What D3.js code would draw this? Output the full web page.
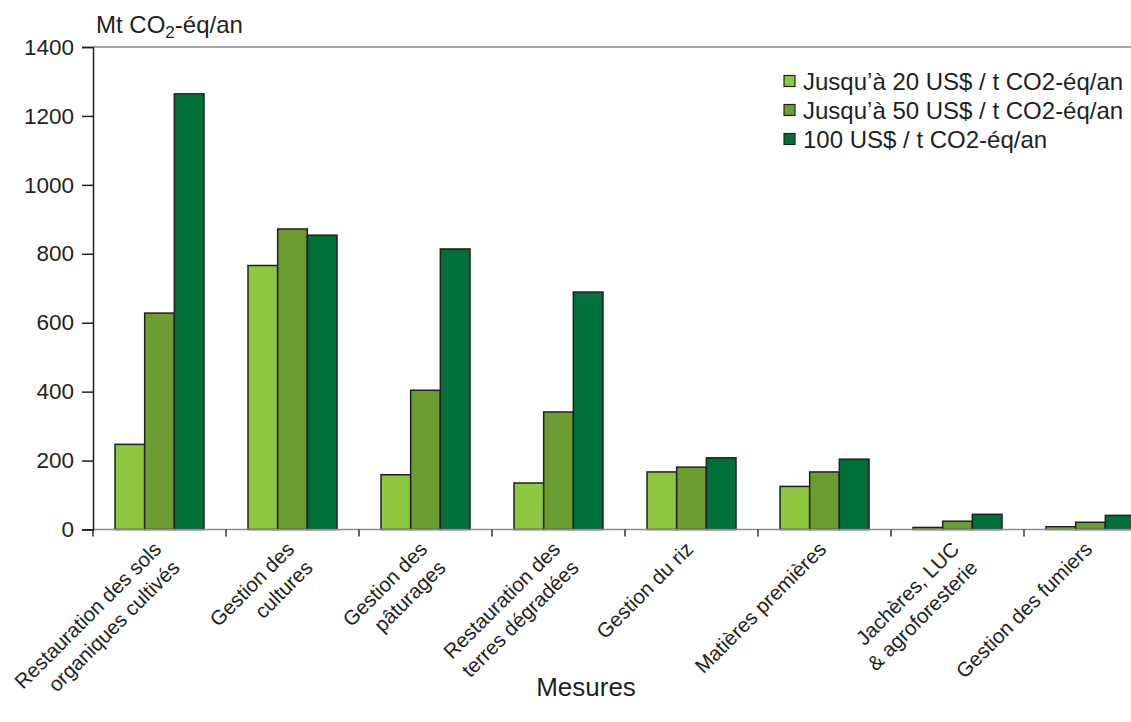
<!DOCTYPE html>
<html>
<head>
<meta charset="utf-8">
<script src="https://cdn.jsdelivr.net/npm/d3@7"></script>
<style>
  body { margin: 0; background: #fff; }
  text { font-family: "Liberation Sans", Arial, sans-serif; fill: #231f20; }
</style>
</head>
<body>
<svg id="chart" width="1131" height="722"></svg>
<script>
// categories (x labels, split in lines)
const mesures = [
  ["Restauration des sols", "organiques cultivés"],
  ["Gestion des", "cultures"],
  ["Gestion des", "pâturages"],
  ["Restauration des", "terres dégradées"],
  ["Gestion du riz"],
  ["Matières premières"],
  ["Jachères, LUC", "& agroforesterie"],
  ["Gestion des fumiers"]
];

const seriesNames = [
  "Jusqu’à 20 US$ / t CO2-éq/an",
  "Jusqu’à 50 US$ / t CO2-éq/an",
  "100 US$ / t CO2-éq/an"
];

// Mt CO2-éq/an
const upTo20 = [247, 766, 159, 135, 167, 125, 6, 8];
const upTo50 = [628, 872, 404, 341, 181, 167, 24, 21];
const at100 = [1264, 854, 814, 689, 208, 204, 44, 41];

const yTicks = [0, 200, 400, 600, 800, 1000, 1200, 1400];

const seriesColors = ["#8dc63f", "#6c9d30", "#00703a"];

const allSeries = [upTo20, upTo50, at100];

const svg = d3.select('#chart');
const W = 1131;

const left = 93, band = 133;
let x = d3.scaleBand()
  .domain(d3.range(mesures.length))
  .range([left, left + band * mesures.length]);

let xInner = d3.scaleBand()
  .domain(d3.range(seriesNames.length))
  .range([22, band - 22]);

let y = d3.scaleLinear()
  .domain([0, 1400])
  .range([529.5, 47]);

// top frame line
svg.append('line')
  .attr('x1', left).attr('x2', W)
  .attr('y1', y(1400)).attr('y2', y(1400))
  .style('stroke', '#8c8c8c').style('stroke-width', 1.5);

// bars
let groups = svg.append('g')
  .selectAll('g.mesure')
  .data(mesures)
  .enter()
  .append('g')
  .attr('class', 'mesure')
  .attr('transform', (d, i) => `translate(${x(i)},0)`);

groups.selectAll('rect')
  .data((d, i) => allSeries.map((s, j) => ({ v: s[i], j: j })))
  .enter()
  .append('rect')
  .attr('x', d => xInner(d.j))
  .attr('width', xInner.bandwidth())
  .attr('y', d => y(d.v))
  .attr('height', d => y(0) - y(d.v))
  .style('fill', d => seriesColors[d.j])
  .style('stroke', '#231f20')
  .style('stroke-width', 1.5);

// baseline
svg.append('line')
  .attr('x1', left).attr('x2', W)
  .attr('y1', y(0)).attr('y2', y(0))
  .style('stroke', '#8c8c8c').style('stroke-width', 1.5);

// x ticks at category boundaries
svg.append('g')
  .selectAll('line')
  .data(d3.range(mesures.length + 1))
  .enter()
  .append('line')
  .attr('x1', i => left + i * band).attr('x2', i => left + i * band)
  .attr('y1', y(0)).attr('y2', y(0) + 7)
  .style('stroke', '#333').style('stroke-width', 1.5);

// y axis
let yAxis = svg.append('g')
  .attr('transform', `translate(${left},0)`)
  .call(d3.axisLeft(y).tickValues(yTicks).tickFormat(d3.format('d')).tickSize(11).tickPadding(8));
yAxis.select('.domain').style('stroke', '#231f20').style('stroke-width', 1.5);
yAxis.selectAll('.tick line').style('stroke', '#231f20').style('stroke-width', 1.5);
yAxis.selectAll('.tick text')
  .style('font-size', '22.5px')
  .style('font-family', '"Liberation Sans", Arial, sans-serif')
  .style('fill', '#231f20');

// unit label
let unit = svg.append('text')
  .attr('x', 96).attr('y', 33)
  .style('font-size', '24px');
unit.append('tspan').text('Mt CO');
unit.append('tspan').text('2').attr('dy', 5).style('font-size', '17px');
unit.append('tspan').text('-éq/an').attr('dy', -5);

// x labels, rotated
let labels = svg.append('g')
  .selectAll('text.xlab')
  .data(mesures)
  .enter()
  .append('text')
  .attr('class', 'xlab')
  .attr('transform', (d, i) => `translate(${x(i) + band / 2 + 3},${y(0) + 21}) rotate(-45)`)
  .style('text-anchor', 'end')
  .style('font-size', '20.5px');

labels.selectAll('tspan')
  .data(d => d)
  .enter()
  .append('tspan')
  .attr('x', 0)
  .attr('dy', (d, i) => i == 0 ? 0 : 26)
  .text(d => d);

// axis title
svg.append('text')
  .attr('x', 586).attr('y', 696)
  .style('text-anchor', 'middle')
  .style('font-size', '26px')
  .text('Mesures');

// legend
let legend = svg.append('g')
  .attr('transform', 'translate(784, 81)');

let legItem = legend.selectAll('g')
  .data(seriesNames)
  .enter()
  .append('g')
  .attr('transform', (d, i) => `translate(0, ${i * 29})`);

legItem.append('rect')
  .attr('x', 0).attr('y', -5.5)
  .attr('width', 11).attr('height', 11)
  .style('fill', (d, i) => seriesColors[i])
  .style('stroke', '#231f20')
  .style('stroke-width', 1.2);

legItem.append('text')
  .attr('x', 19).attr('y', 8.5)
  .style('font-size', '24px')
  .text(d => d);
</script>
</body>
</html>
